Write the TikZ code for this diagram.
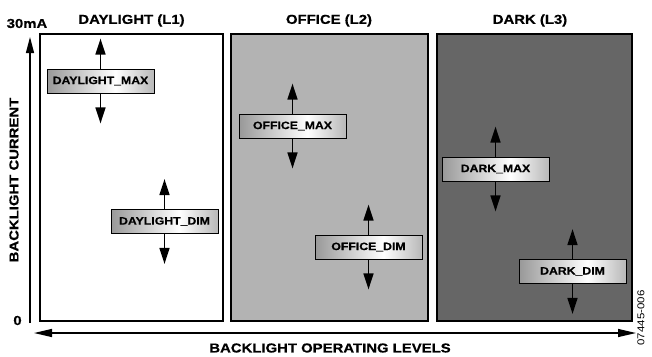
\documentclass[tikz,border=0pt]{standalone}
\usepackage{fontspec}
\setmainfont{Liberation Sans}[FakeStretch=1.15, BoldFont={Liberation Sans Bold}, BoldFeatures={FakeStretch=1.15, FakeBold=0.6}]
\usetikzlibrary{arrows.meta}
\definecolor{officegray}{HTML}{B3B3B3}
\definecolor{darkgray}{HTML}{666666}
\definecolor{shadeL}{HTML}{484848}
\definecolor{shadeR}{HTML}{555555}
\pgfdeclarehorizontalshading{boxshade}{100bp}{color(0bp)=(shadeL); color(57bp)=(white); color(100bp)=(shadeR)}
\tikzset{
  panel/.style={draw=black, line width=1.3bp},
  levelbox/.style={draw=black, line width=0.8bp, shading=boxshade, minimum width=107bp, minimum height=24bp, inner sep=0pt, font=\fontsize{10.7}{12}\selectfont\bfseries},
  arr/.style={line width=1.6bp, -{Triangle[length=16bp,width=10bp]}},
  axis/.style={line width=1.3bp},
  title/.style={font=\fontsize{13}{15}\selectfont\bfseries, inner sep=0pt},
}
\begin{document}
\begin{tikzpicture}[x=1bp,y=-1bp]
\useasboundingbox (0,0) rectangle (652,356);
% panels
\draw[panel, fill=white] (40,34) rectangle (223,321);
\draw[panel, fill=officegray] (231,34) rectangle (428,321);
\draw[panel, fill=darkgray] (437,34) rectangle (632,321);
% titles
\node[title] (t1) at (131.5,20.5) {DAYLIGHT (L1)};
\node[title] (t2) at (329,20.5) {OFFICE (L2)};
\node[title] (t3) at (530,20.5) {DARK (L3)};
\node[title] (ma) at (27,23.5) {30mA};
\node[title] (zero) at (17.5,320.5) {0};
\node[title, rotate=90] (ylab) at (14,180) {BACKLIGHT CURRENT};
\node[title] (xlab) at (330,348) {BACKLIGHT OPERATING LEVELS};
\node[font=\fontsize{10}{12}\selectfont, rotate=90, inner sep=0pt] (code) at (641,318) {07445-006};
% axes
\coordinate (yb) at (30,323);
\coordinate (yt) at (30,37);
\draw[axis, -{Triangle[length=16bp,width=8bp]}] (yb) -- (yt);
\coordinate (xl) at (34,333);
\coordinate (xr) at (636,333);
\draw[axis, {Triangle[length=18bp,width=8bp]}-{Triangle[length=18bp,width=8bp]}] (xl) -- (xr);
% level boxes
\node[levelbox] (dmax) at (100.5,81) {DAYLIGHT\_MAX};
\node[levelbox] (ddim) at (164.5,221.5) {DAYLIGHT\_DIM};
\node[levelbox] (omax) at (292.5,126) {OFFICE\_MAX};
\node[levelbox] (odim) at (368.5,247) {OFFICE\_DIM};
\node[levelbox] (kmax) at (495.5,169) {DARK\_MAX};
\node[levelbox] (kdim) at (572.5,271.5) {DARK\_DIM};
\foreach \b in {dmax,ddim,omax,odim,kmax,kdim}{
  \coordinate (\b U) at ([yshift=30bp]\b.north);
  \coordinate (\b D) at ([yshift=-30bp]\b.south);
  \draw[arr] (\b.north) -- (\b U);
  \draw[arr] (\b.south) -- (\b D);
}
\end{tikzpicture}
\end{document}
